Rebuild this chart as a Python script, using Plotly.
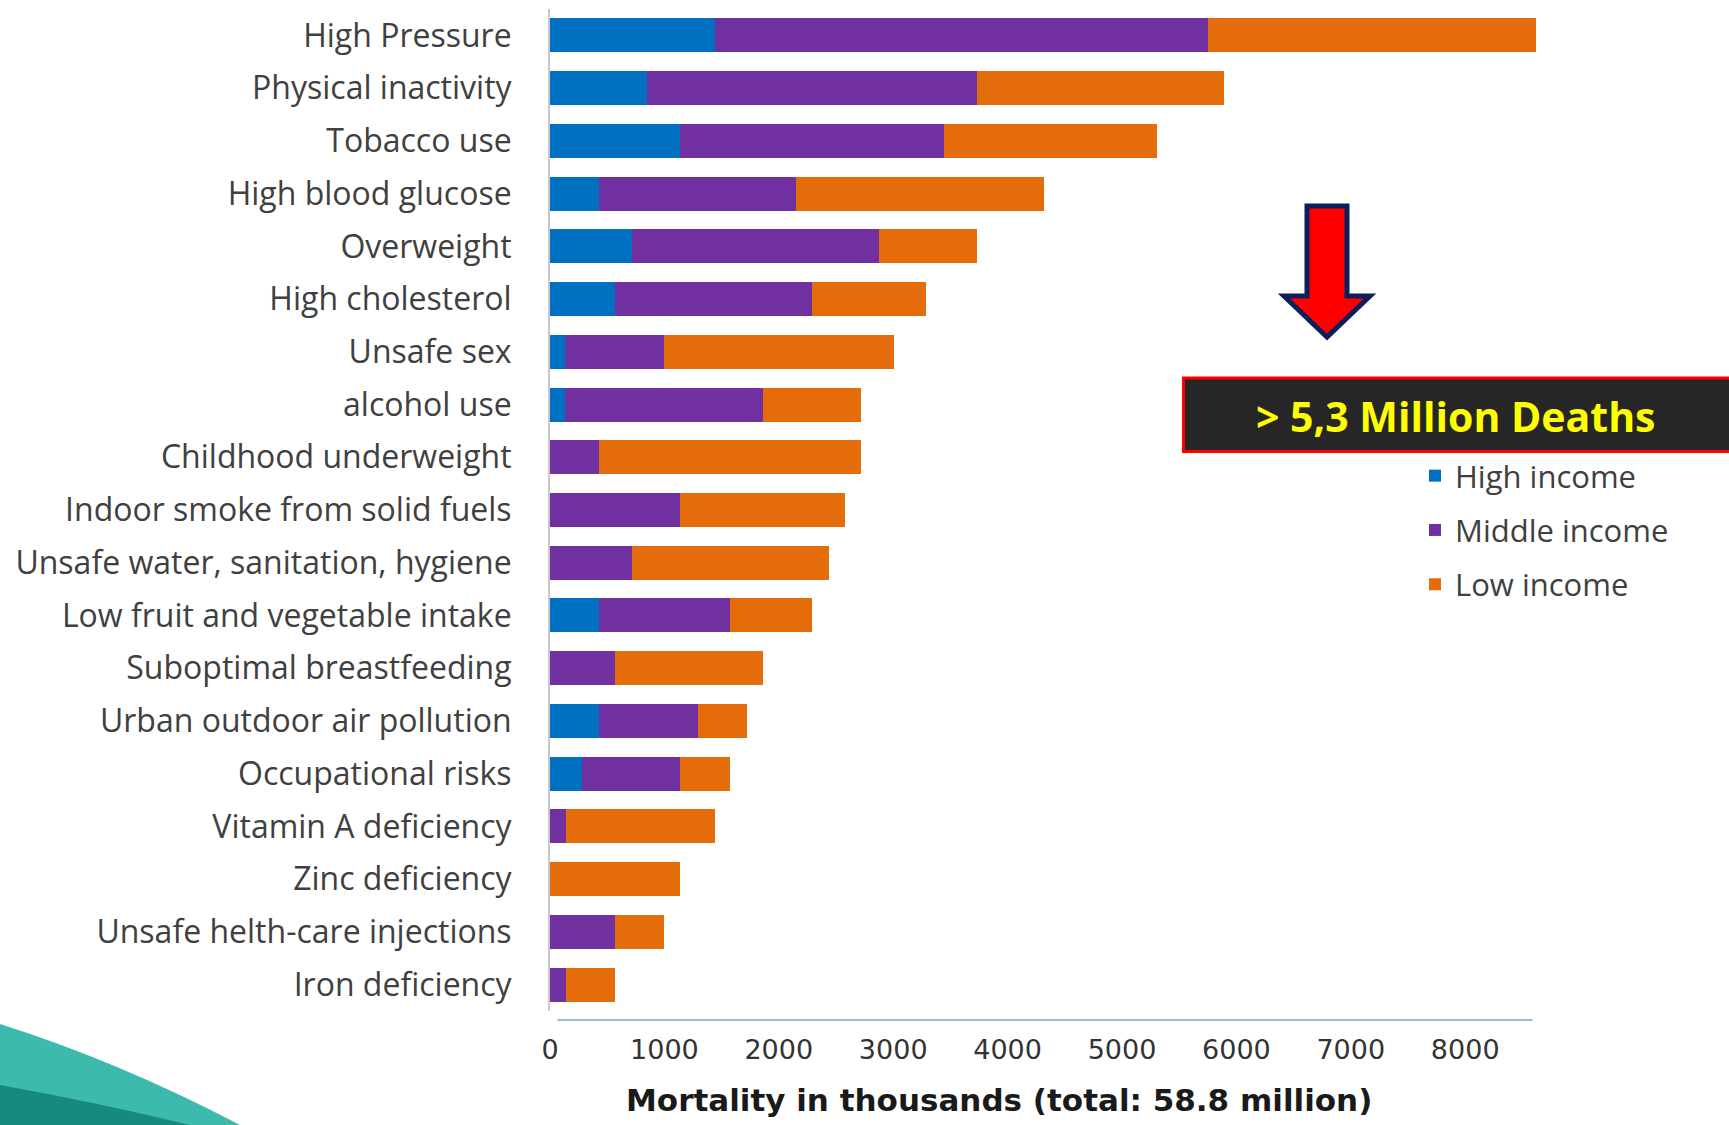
import plotly.graph_objects as go

# Attributable mortality by risk factor and country income group (thousands)
risk_factors = [
    "High Pressure", "Physical inactivity", "Tobacco use", "High blood glucose",
    "Overweight", "High cholesterol", "Unsafe sex", "alcohol use",
    "Childhood underweight", "Indoor smoke from solid fuels",
    "Unsafe water, sanitation, hygiene", "Low fruit and vegetable intake",
    "Suboptimal breastfeeding", "Urban outdoor air pollution",
    "Occupational risks", "Vitamin A deficiency", "Zinc deficiency",
    "Unsafe helth-care injections", "Iron deficiency",
]
high_income = [1440, 850, 1140, 430, 720, 570, 130, 130, 0, 0, 0, 430, 0, 430, 280, 0, 0, 0, 0]
middle_income = [4310, 2880, 2300, 1720, 2160, 1720, 870, 1730, 430, 1140, 720, 1140, 570, 860, 860, 140, 0, 570, 140]
low_income = [2870, 2160, 1870, 2170, 850, 1000, 2010, 860, 2290, 1440, 1720, 720, 1290, 430, 430, 1300, 1140, 430, 430]

x_ticks = [0, 1000, 2000, 3000, 4000, 5000, 6000, 7000, 8000]
x_title = "Mortality in thousands (total: 58.8 million)"
callout_text = "> 5,3 Million Deaths"

series = [
    ("High income", high_income, "#0070C0"),
    ("Middle income", middle_income, "#7030A0"),
    ("Low income", low_income, "#E46C0A"),
]

W, H = 1729, 1125
ML, MR, MT, MB = 550, 35, 9, 114
PW, PH = W - ML - MR, H - MT - MB


def px(x):
    """Page pixel x -> paper fraction."""
    return (x - ML) / PW


def py(y):
    """Page pixel y (from top) -> paper fraction."""
    return (H - MB - y) / PH


fig = go.Figure()
for name, vals, color in series:
    fig.add_trace(go.Bar(
        y=risk_factors, x=vals, orientation="h", name=name,
        marker=dict(color=color, line=dict(width=0)),
        legendgroup=name,
    ))

label_font = "'Open Sans', Lato, sans-serif"
axis_font = "'DejaVu Sans', sans-serif"

shapes = []
# horizontal baseline under the bars
shapes.append(dict(type="line", xref="x", yref="paper", x0=65, x1=8590,
                   y0=py(1020), y1=py(1020), line=dict(color="#9DB9E3", width=2)))

# callout arrow
pts = [(1307, 206), (1347, 206), (1347, 296), (1370, 296), (1327, 337),
       (1284, 296), (1307, 296)]
path = "M " + " L ".join(f"{px(a):.5f},{py(b):.5f}" for a, b in pts) + " Z"
shapes.append(dict(type="path", xref="paper", yref="paper", path=path,
                   fillcolor="#FF0000", line=dict(color="#0D1F5A", width=5)))

# callout box
shapes.append(dict(type="rect", xref="paper", yref="paper",
                   x0=px(1183.5), x1=px(1740), y0=py(451.5), y1=py(378),
                   fillcolor="#262626", line=dict(color="#FF0000", width=3)))

# slide template swoosh in the lower-left corner
def curve(p0, c, p1):
    return (f"M {px(p0[0]):.5f},{py(p0[1]):.5f} "
            f"Q {px(c[0]):.5f},{py(c[1]):.5f} {px(p1[0]):.5f},{py(p1[1]):.5f} "
            f"L {px(0):.5f},{py(1125):.5f} Z")

shapes.append(dict(type="path", xref="paper", yref="paper", layer="above",
                   path=curve((0, 1024), (120, 1062), (240, 1125)),
                   fillcolor="#3DBAAE", line=dict(width=0)))
shapes.append(dict(type="path", xref="paper", yref="paper", layer="above",
                   path=curve((0, 1085), (95, 1102), (190, 1125)),
                   fillcolor="#168A80", line=dict(width=0)))

annotations = [
    dict(text=x_title, xref="paper", yref="paper", x=px(999), y=py(1100),
         xanchor="center", yanchor="middle", showarrow=False,
         font=dict(family=axis_font, size=31, color="#1A1A1A", weight="bold")),
    dict(text=callout_text, xref="paper", yref="paper", x=px(1455), y=py(416),
         xanchor="center", yanchor="middle", showarrow=False,
         font=dict(family=label_font, size=41, color="#FFFF00", weight="bold")),
]

fig.update_layout(
    width=W, height=H,
    margin=dict(l=ML, r=MR, t=MT, b=MB),
    paper_bgcolor="white", plot_bgcolor="white",
    barmode="stack", bargap=0.355,
    showlegend=True,
    legend=dict(x=px(1415), y=py(449), xanchor="left", yanchor="top",
                traceorder="grouped", tracegroupgap=11,
                font=dict(family=label_font, size=31, color="#404040"),
                bgcolor="rgba(0,0,0,0)"),
    xaxis=dict(range=[0, 10000], tickvals=x_ticks,
               ticktext=[str(v) for v in x_ticks],
               showgrid=False, zeroline=False, showline=False, ticks="",
               ticklabelstandoff=20,
               tickfont=dict(family=axis_font, size=27, color="#333333")),
    yaxis=dict(type="category", autorange="reversed",
               showgrid=False, zeroline=False,
               showline=True, linecolor="#C8C8C8", linewidth=2,
               ticks="", ticklabelstandoff=30,
               tickfont=dict(family=label_font, size=32, color="#404040")),
    shapes=shapes,
    annotations=annotations,
)

fig.write_html("out.html")
